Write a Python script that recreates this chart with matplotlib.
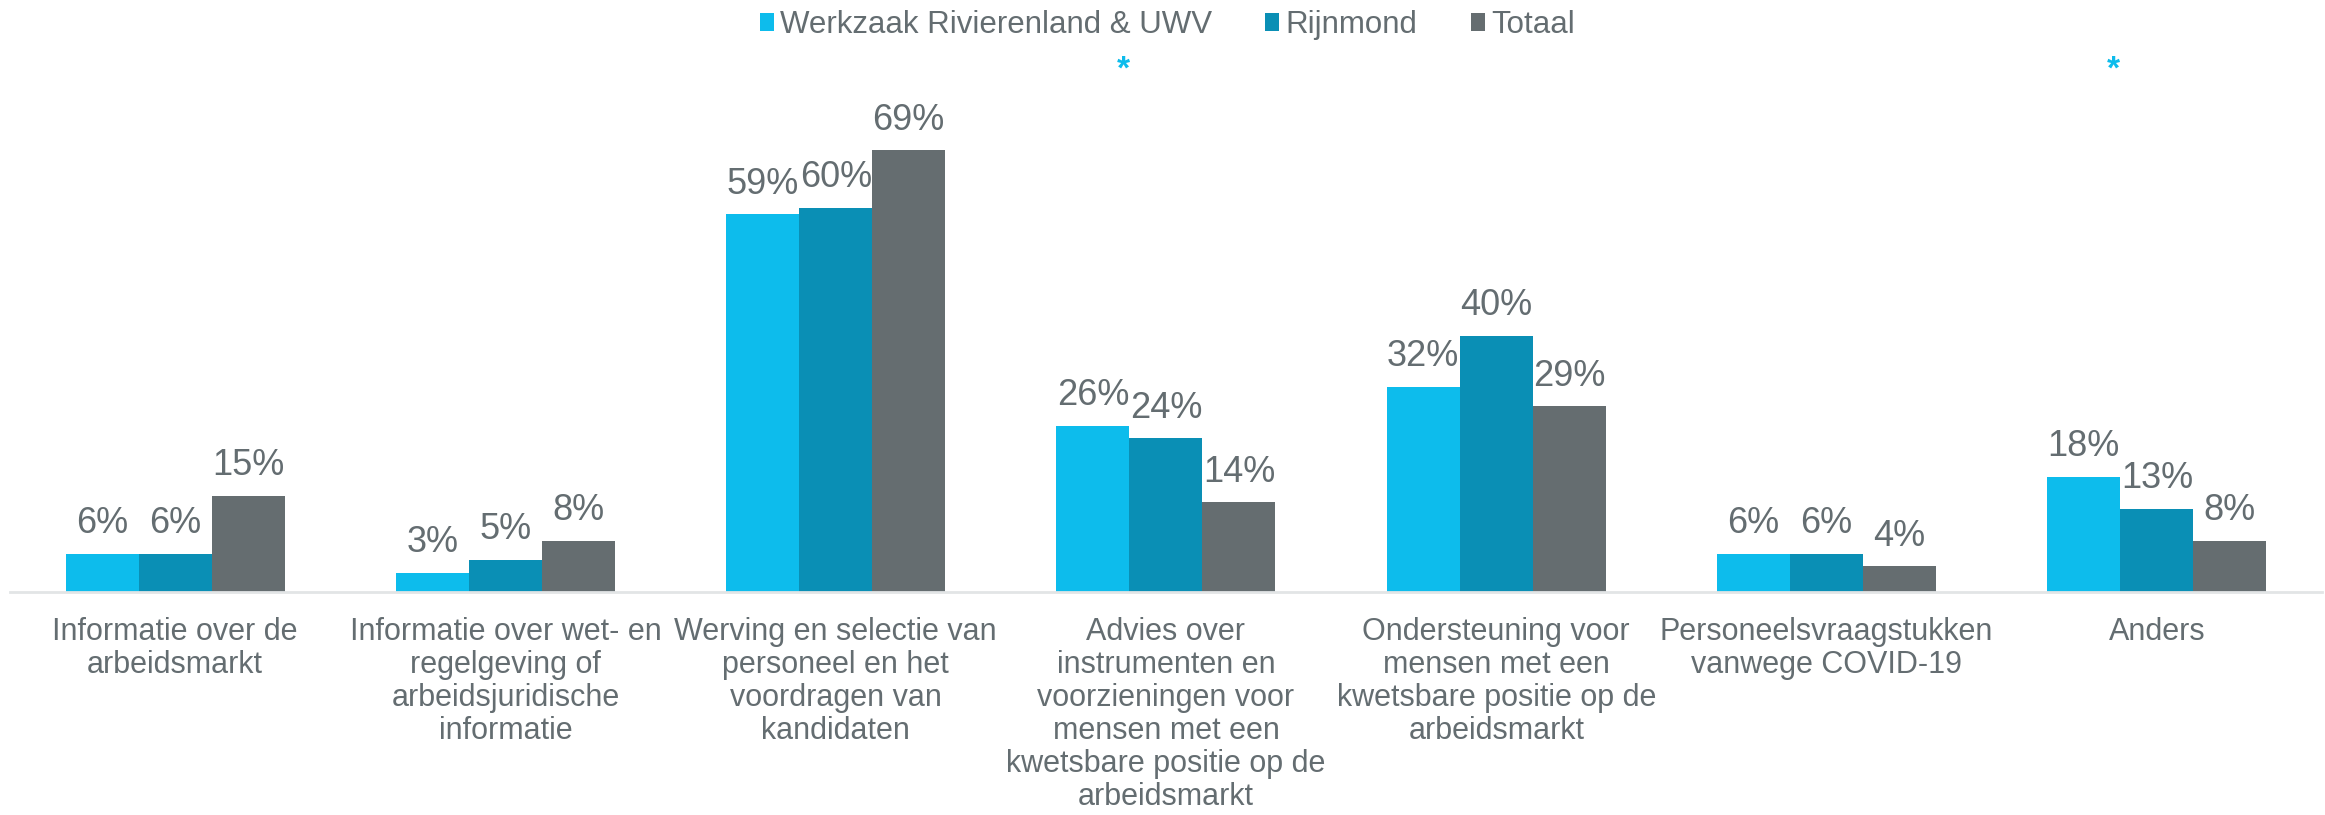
import matplotlib
matplotlib.use('Agg')
import matplotlib.pyplot as plt
import numpy as np

# Gegevens
CATEGORIES = [
    'Informatie over de\narbeidsmarkt',
    'Informatie over wet- en\nregelgeving of\narbeidsjuridische\ninformatie',
    'Werving en selectie van\npersoneel en het\nvoordragen van\nkandidaten',
    'Advies over\ninstrumenten en\nvoorzieningen voor\nmensen met een\nkwetsbare positie op de\narbeidsmarkt',
    'Ondersteuning voor\nmensen met een\nkwetsbare positie op de\narbeidsmarkt',
    'Personeelsvraagstukken\nvanwege COVID-19',
    'Anders',
]
SERIES = ['Werkzaak Rivierenland & UWV', 'Rijnmond', 'Totaal']
WERKZAAK = [6, 3, 59, 26, 32, 6, 18]
RIJNMOND = [6, 5, 60, 24, 40, 6, 13]
TOTAAL = [15, 8, 69, 14, 29, 4, 8]
SIGNIFICANT = [3, 6]  # groepen met een asterisk

COLORS = ['#0DBCEC', '#0A8FB5', '#656D70']
TEXT_COLOR = '#646D71'

plt.rcParams['font.family'] = ['Liberation Sans', 'DejaVu Sans']


def main():
    fig = plt.figure(figsize=(23.25, 8.15), dpi=100)
    ax = fig.add_axes([0.0043, 0.2736, 0.9944, 0.6675])

    x = np.arange(len(CATEGORIES))
    width = 0.221
    values = [WERKZAAK, RIJNMOND, TOTAAL]

    for i, (name, vals, color) in enumerate(zip(SERIES, values, COLORS)):
        pos = x + (i - 1) * width
        ax.bar(pos, vals, width, color=color, label=name, linewidth=0)
        for p, v in zip(pos, vals):
            ax.annotate(f'{v}%', (p, v), xytext=(0, 15), textcoords='offset points',
                        ha='center', va='baseline', fontsize=26, color=TEXT_COLOR)

    # Asterisken boven significante groepen
    for g in SIGNIFICANT:
        ax.text(g - 0.13, 81.5, '*', ha='center', va='center', fontsize=24,
                fontweight='bold', color=COLORS[0], clip_on=False)

    ax.set_xlim(-0.5, len(CATEGORIES) - 0.5)
    ax.set_ylim(0, 85)
    ax.set_xticks(x)
    ax.set_xticklabels(CATEGORIES, fontsize=22, color=TEXT_COLOR, linespacing=1.13)
    ax.tick_params(axis='x', length=0, pad=18)
    ax.set_yticks([])
    for side in ['top', 'right', 'left']:
        ax.spines[side].set_visible(False)
    ax.spines['bottom'].set_color('#E2E5E6')
    ax.spines['bottom'].set_linewidth(2)

    leg = fig.legend(loc='upper center', bbox_to_anchor=(0.502, 1.005), ncol=3,
                     frameon=False, fontsize=22.5, handlelength=0.45,
                     handleheight=0.5, handletextpad=0.2, columnspacing=1.7,
                     borderaxespad=0.05)
    for t in leg.get_texts():
        t.set_color(TEXT_COLOR)

    fig.savefig('out.png', dpi=100)


if __name__ == '__main__':
    main()
